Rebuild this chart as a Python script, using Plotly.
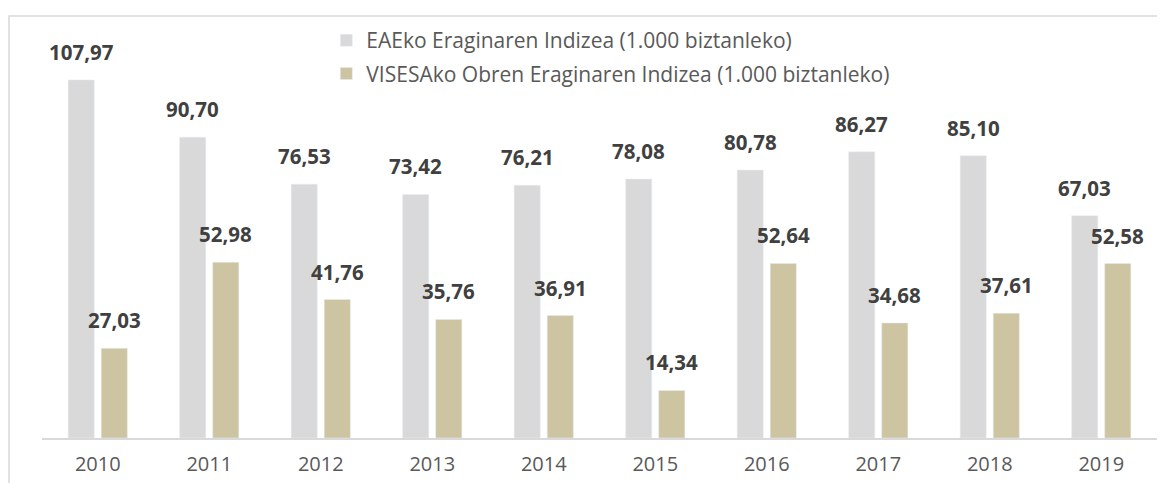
import plotly.graph_objects as go

years = ["2010", "2011", "2012", "2013", "2014", "2015", "2016", "2017", "2018", "2019"]
eae_index = [107.97, 90.70, 76.53, 73.42, 76.21, 78.08, 80.78, 86.27, 85.10, 67.03]
visesa_index = [27.03, 52.98, 41.76, 35.76, 36.91, 14.34, 52.64, 34.68, 37.61, 52.58]

eae_name = "EAEko Eraginaren Indizea (1.000 biztanleko)"
visesa_name = "VISESAko Obren Eraginaren Indizea (1.000 biztanleko)"

GRAY = "#d9d9d9"
TAN = "#cdc4a1"
FONT = "Open Sans"


def fmt(v):
    return f"{v:.2f}".replace(".", ",")


fig = go.Figure()
fig.add_trace(go.Bar(x=years, y=eae_index, name=eae_name, marker_color=GRAY,
                     legendgroup="eae"))
fig.add_trace(go.Bar(x=years, y=visesa_index, name=visesa_name, marker_color=TAN,
                     legendgroup="visesa"))

# value labels float a little above each bar
# (category index for x, numeric-looking strings get read as indices otherwise)
for series, shift in ((eae_index, -16.5), (visesa_index, 16.5)):
    for i, v in enumerate(series):
        fig.add_annotation(
            x=i, y=v, text=fmt(v), showarrow=False,
            xshift=shift, yshift=28, yanchor="middle",
            font=dict(family=FONT, size=20.5, color="#404040", weight="bold"),
        )

# light frame around the chart
fig.add_shape(
    type="rect", xref="paper", yref="paper",
    x0=-0.0296, x1=1.2, y0=-0.3, y1=1.06,
    line=dict(color=GRAY, width=1.5),
)

fig.update_layout(
    width=1165, height=483,
    margin=dict(l=34, r=16, t=30, b=53),
    barmode="group", bargap=0.407, bargroupgap=0.21,
    plot_bgcolor="white", paper_bgcolor="white",
    font=dict(family=FONT, size=20, color="#595959"),
    legend=dict(
        x=0.255, y=1.05, xanchor="left", yanchor="top",
        orientation="v", bgcolor="rgba(0,0,0,0)", traceorder="grouped",
        font=dict(size=21, color="#595959"), tracegroupgap=3,
    ),
    showlegend=True,
)
fig.update_xaxes(
    type="category", range=[-0.5, 9.5], showline=True, linecolor=GRAY,
    linewidth=2, ticks="", ticklabelstandoff=7,
    tickfont=dict(size=20, color="#595959"), showgrid=False,
)
fig.update_yaxes(range=[0, 120], visible=False, showgrid=False)

fig.write_html("out.html")
